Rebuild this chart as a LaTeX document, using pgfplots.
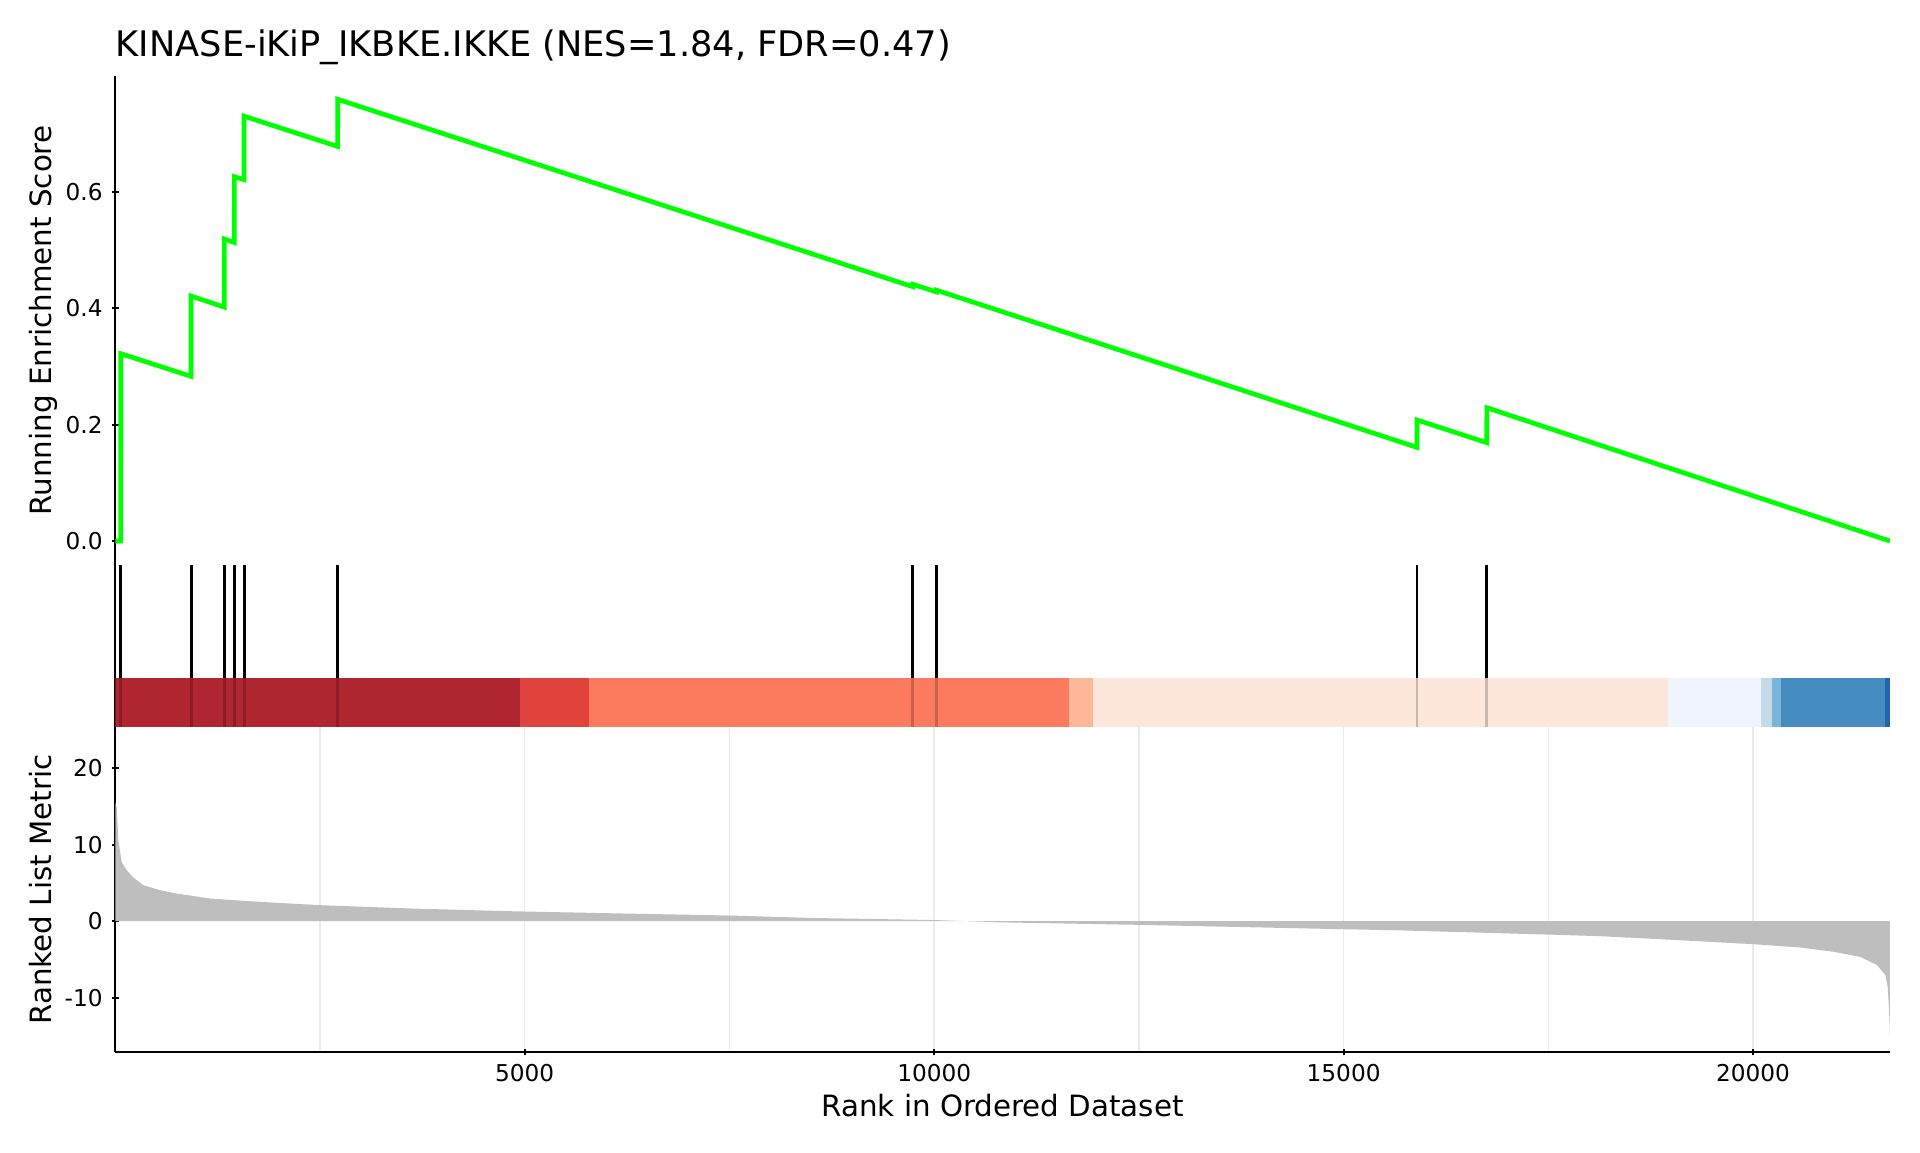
\documentclass[border=0pt]{standalone}
\usepackage{pgfplots}
\pgfplotsset{compat=1.18}
\usepackage{fontspec}
\setmainfont{DejaVu Sans}

\definecolor{esgreen}{RGB}{0,255,0}
\definecolor{fillgray}{RGB}{190,190,190}
\definecolor{cA}{RGB}{175,37,48}
\definecolor{cB}{RGB}{224,67,60}
\definecolor{cC}{RGB}{252,123,95}
\definecolor{cD}{RGB}{253,183,153}
\definecolor{cE}{RGB}{253,230,220}
\definecolor{cF}{RGB}{240,244,253}
\definecolor{cG}{RGB}{196,218,232}
\definecolor{cH}{RGB}{122,180,217}
\definecolor{cI}{RGB}{69,141,193}
\definecolor{cJ}{RGB}{33,102,172}

\pgfplotstableread{
x y
0 0
65 0
66 0.322
924 0.283
925 0.421
1330 0.402
1331 0.519
1453 0.513
1454 0.626
1571 0.621
1572 0.730
2715 0.678
2716 0.759
9739 0.437
9740 0.441
10027 0.428
10028 0.431
15895 0.161
15896 0.208
16748 0.169
16749 0.229
21672 0.0
}\esdata

\pgfplotstableread{
x y
66 49
66 162
nan nan
925 49
925 162
nan nan
1331 49
1331 162
nan nan
1454 49
1454 162
nan nan
1572 49
1572 162
nan nan
2716 49
2716 162
nan nan
9740 49
9740 162
nan nan
10028 49
10028 162
nan nan
15896 49
15896 162
nan nan
16749 49
16749 162
}\hitsup

\pgfplotstableread{
x y
66 0
66 49
nan nan
925 0
925 49
nan nan
1331 0
1331 49
nan nan
1454 0
1454 49
nan nan
1572 0
1572 49
nan nan
2716 0
2716 49
nan nan
9740 0
9740 49
nan nan
10028 0
10028 49
nan nan
15896 0
15896 49
nan nan
16749 0
16749 49
}\hitslow

\pgfplotstableread{
x y
0 15.5
17 14.9
37 10.6
78 7.7
139 6.66
220 5.7
342 4.7
546 4.05
750 3.6
1157 2.96
1767 2.52
2500 2.09
3600 1.66
4822 1.3
6018 1.04
7500 0.74
8510 0.42
10000 0.15
10806 -0.15
12500 -0.48
15000 -1.05
15692 -1.2
17500 -1.75
18134 -1.96
18950 -2.4
20000 -3.0
20578 -3.44
20985 -4.0
21311 -4.66
21515 -5.74
21616 -7.05
21644 -8.6
21661 -11.6
21672 -15.1
}\metric

\pgfplotsset{
  common/.style={
    scale only axis, width=665.5pt, xmin=0, xmax=21672,
    anchor=south west, tick align=outside, major tick length=2.5pt,
    tick style={line width=0.75pt, black},
    ticklabel style={font=\fontsize{8.7}{10}\selectfont},
    /pgf/number format/assume math mode=true,
    /pgf/number format/1000 sep={},
    grid style={black!8, line width=0.55pt},
    label style={font=\fontsize{11}{13}\selectfont},
    unbounded coords=jump,
  },
  noarrows/.style={
    axis line style={line width=0.85pt, -},
    every outer x axis line/.append style={-},
    every outer y axis line/.append style={-},
    every inner x axis line/.append style={-},
    every inner y axis line/.append style={-},
    x axis line style={-}, y axis line style={-},
  }
}

\begin{document}
\begin{tikzpicture}
\useasboundingbox (0,0) rectangle (720pt,432pt);

% top panel
\begin{axis}[common, at={(43.24pt,220.125pt)}, height=183.375pt,
  ymin=-0.0412, ymax=0.799,
  axis x line=none, axis y line=left, noarrows,
  xtick={2500,5000,...,20000}, xmajorgrids,
  ytick={0,0.2,0.4,0.6},
  yticklabel style={/pgf/number format/.cd, fixed, fixed zerofill, precision=1},
  ylabel={Running Enrichment Score},
  ylabel style={at={(axis description cs:-0.0357,0.5)}, anchor=base},
  every axis title shift=0pt,
  title={KINASE-iKiP\_IKBKE.IKKE (NES=1.84, FDR=0.47)},
  title style={at={(axis description cs:0,1)}, anchor=base west, yshift=7.5pt,
    font=\fontsize{13.2}{15}\selectfont, inner sep=0pt},
]
\addplot[esgreen, line width=1.75pt] table {\esdata};
\end{axis}

% middle panel: hits and colour bar
\begin{axis}[common, at={(43.24pt,159.375pt)}, height=60.75pt,
  ymin=0, ymax=162,
  axis x line=none, axis y line=left, noarrows, ytick=\empty,
]
\addplot[fill=cA, draw=none] coordinates {(0,0) (0,49) (4943,49) (4943,0)} -- cycle;
\addplot[fill=cB, draw=none] coordinates {(4943,0) (4943,49) (5784,49) (5784,0)} -- cycle;
\addplot[fill=cC, draw=none] coordinates {(5784,0) (5784,49) (11649,49) (11649,0)} -- cycle;
\addplot[fill=cD, draw=none] coordinates {(11649,0) (11649,49) (11943,49) (11943,0)} -- cycle;
\addplot[fill=cE, draw=none] coordinates {(11943,0) (11943,49) (18965,49) (18965,0)} -- cycle;
\addplot[fill=cF, draw=none] coordinates {(18965,0) (18965,49) (20102,49) (20102,0)} -- cycle;
\addplot[fill=cG, draw=none] coordinates {(20102,0) (20102,49) (20225,49) (20225,0)} -- cycle;
\addplot[fill=cH, draw=none] coordinates {(20225,0) (20225,49) (20347,49) (20347,0)} -- cycle;
\addplot[fill=cI, draw=none] coordinates {(20347,0) (20347,49) (21617,49) (21617,0)} -- cycle;
\addplot[fill=cJ, draw=none] coordinates {(21617,0) (21617,49) (21672,49) (21672,0)} -- cycle;
\addplot[black, line width=1.1pt] table {\hitsup};
\addplot[black, opacity=0.2, line width=1.1pt] table {\hitslow};
\end{axis}

% bottom panel
\begin{axis}[common, at={(43.24pt,37.5pt)}, height=121.875pt,
  ymin=-17.08, ymax=25.35,
  axis x line=bottom, axis y line=left, noarrows,
  xtick={5000,10000,15000,20000}, minor xtick={2500,7500,12500,17500},
  xmajorgrids, xminorgrids, minor tick length=0pt,
  scaled x ticks=false,
  ytick={-10,0,10,20},
  xlabel={Rank in Ordered Dataset},
  xlabel style={at={(axis description cs:0.5,0)}, anchor=base, yshift=-24pt},
  ylabel={Ranked List Metric},
  ylabel style={at={(axis description cs:-0.0357,0.5)}, anchor=base},
]
\addplot[fill=fillgray, draw=none] table {\metric} \closedcycle;
\end{axis}
\end{tikzpicture}
\end{document}
